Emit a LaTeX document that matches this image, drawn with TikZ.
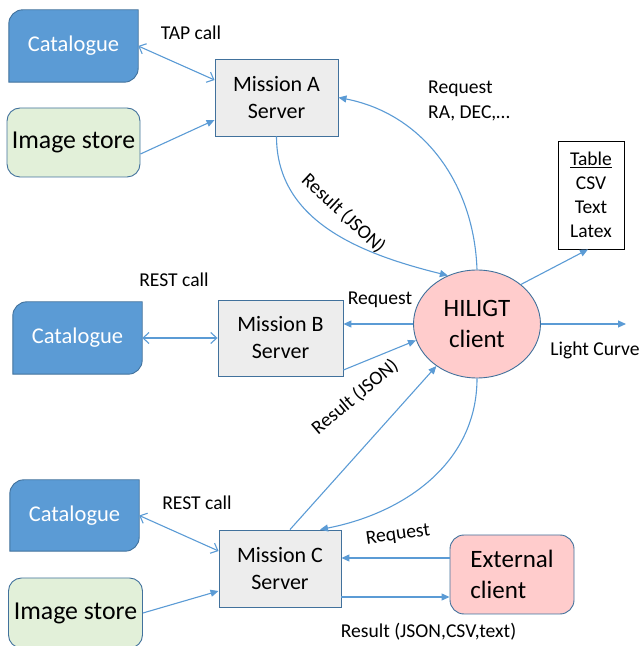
\documentclass[tikz,border=0pt]{standalone}
\usepackage{fontspec}
\setmainfont{Carlito}
\usetikzlibrary{arrows.meta,shapes.geometric}
\definecolor{catblue}{HTML}{5B9BD5}
\definecolor{edgeblue}{HTML}{41719C}
\definecolor{imggreen}{HTML}{E2F0D9}
\definecolor{boxgray}{HTML}{EDEDED}
\definecolor{pinkfill}{HTML}{FFCCCC}
\definecolor{arrowblue}{HTML}{5B9BD5}
\pgfdeclarelayer{background}
\pgfsetlayers{background,main}
\newcommand\catshape[1]{%
  \begin{pgfonlayer}{background}
  \draw[draw=edgeblue,fill=catblue,line width=0.9pt] (#1.south west) -- ([yshift=-14pt]#1.north west)
    arc[start angle=180,end angle=90,radius=14pt] -- (#1.north east) -- ([yshift=14pt]#1.south east)
    arc[start angle=0,end angle=-90,radius=14pt] -- cycle;
  \end{pgfonlayer}}
\begin{document}
\begin{tikzpicture}[x=1pt,y=1pt,
  server/.style={draw=edgeblue, line width=0.9pt, fill=boxgray, minimum width=123pt, minimum height=77pt,
    align=center, font=\fontsize{22}{27}\selectfont, inner sep=0pt},
  catbox/.style={minimum width=129pt, minimum height=72pt, text=white, font=\fontsize{22.5}{27}\selectfont, inner sep=0pt},
  imgbox/.style={draw=edgeblue, line width=0.9pt, fill=imggreen, rounded corners=13pt, minimum width=133pt,
    minimum height=69pt, font=\fontsize{25.8}{30}\selectfont, inner sep=0pt},
  lbl/.style={font=\fontsize{19.6}{25}\selectfont, inner sep=0pt},
  conn/.style={draw=arrowblue, line width=1.1pt, -{Triangle[length=8pt,width=7pt]}},
  dbl/.style={draw=arrowblue, line width=1.1pt, {Straight Barb[length=6pt,width=11pt]}-{Straight Barb[length=6pt,width=11pt]}},
]
\useasboundingbox (0,0) rectangle (642,646);

% nodes
\node[catbox] (cA) at (73.5,600) {Catalogue}; \catshape{cA}
\node[imgbox] (iA) at (73.5,503.5) {Image store};
\node[server] (mA) at (276.5,548.5) {Mission A\\Server};
\node[lbl] (tapl) at (191,613) {TAP call};
\node[lbl, anchor=west, align=left] (reqA) at (428,545.5) {Request\\RA, DEC,\dots};
\node[draw=black, line width=0.8pt, fill=white, minimum width=66pt, minimum height=108pt, align=center,
  font=\fontsize{19.5}{24}\selectfont, inner sep=0pt] (tb) at (591,451) {\underline{Table}\\CSV\\Text\\Latex};
\node[ellipse, draw=edgeblue, line width=0.9pt, fill=pinkfill, minimum width=127pt, minimum height=108pt,
  inner sep=0pt, align=center, font=\fontsize{25}{31}\selectfont] (hc) at (477,322) {HILIGT\\client};

\node[catbox] (cB) at (77.5,308) {Catalogue}; \catshape{cB}
\node[server, minimum width=125pt, minimum height=76pt] (mB) at (280.5,308) {Mission B\\Server};
\node[lbl] (restB) at (174,366) {REST call};
\node[lbl] (reqB) at (380,346) {Request};
\node[lbl] (lcl) at (595,296) {Light Curve};
\node[lbl, rotate=40] (resM) at (355,249) {Result (JSON)};
\node[lbl, rotate=-43] (resA) at (343.5,432.5) {Result (JSON)};
\coordinate (lcend) at (626,322);

\node[catbox, minimum height=71pt] (cC) at (74.5,130.5) {Catalogue}; \catshape{cC}
\node[imgbox, minimum width=134pt, minimum height=70pt] (iC) at (75.5,33) {Image store};
\node[server, minimum width=122pt] (mC) at (280,77.5) {Mission C\\Server};
\node[draw=edgeblue, line width=0.9pt, fill=pinkfill, rounded corners=14pt, minimum width=124pt, minimum height=79pt,
  align=left, font=\fontsize{25}{31}\selectfont, inner sep=0pt] (ext) at (512,71.5) {External\\client};
\node[lbl] (restC) at (197,143) {REST call};
\node[lbl, rotate=8] (reqC) at (398,111) {Request};
\node[lbl] (resC) at (428.5,14) {Result (JSON,CSV,text)};

\coordinate (extreq) at ([yshift=16.5pt]ext.west);
\coordinate (mCres) at ([yshift=-28.5pt]mC.east);

% connectors top
\draw[dbl] (cA.east) -- ([yshift=17.5pt]mA.west);
\draw[conn] ([yshift=-11.5pt]iA.east) -- ([yshift=-22.5pt]mA.west);
\draw[conn] (mA.south) to[out=-90, in=166] (hc.121);
\draw[conn] (hc.north) to[out=92, in=-11] (mA.east);
\draw[conn] (hc.42) -- ([xshift=-3pt]tb.south);
\draw[conn] (hc.east) -- (lcend);

% connectors middle
\draw[dbl] (cB.east) -- (mB.west);
\draw[conn] (hc.west) -- (mB.east |- hc.west);
\draw[conn] ([yshift=-32pt]mB.east) -- (hc.195);
\draw[conn] ([xshift=10pt]mC.north) -- (hc.226);
\draw[conn] (hc.south) to[out=-90, in=11] ([xshift=40pt]mC.north);

% connectors bottom
\draw[dbl] (cC.east) -- ([yshift=17.5pt]mC.west);
\draw[conn] (iC.east) -- ([yshift=-22.5pt]mC.west);
\draw[conn] (extreq) -- (mC.east |- extreq);
\draw[conn] (mCres) -- (ext.west |- mCres);
\end{tikzpicture}
\end{document}
